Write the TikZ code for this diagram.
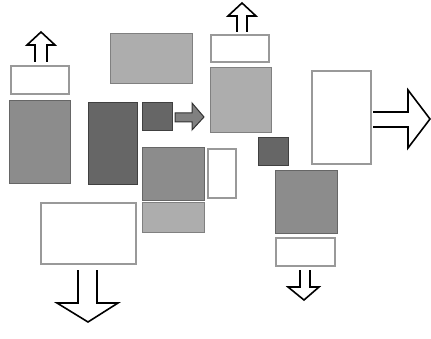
\documentclass[tikz,border=0pt]{standalone}
\begin{document}
\begin{tikzpicture}[x=1pt,y=-1pt,
  graybox/.style={fill=black!45,draw=black!60,line width=0.8pt},
  lightbox/.style={fill=black!32,draw=black!50,line width=0.8pt},
  darkbox/.style={fill=black!60,draw=black!75,line width=0.8pt},
  openbox/.style={draw=black!40,line width=2.2pt,fill=white},
  outarrow/.style={draw=black,line width=1.6pt,fill=white,line join=miter},
  fillarrow/.style={draw=black!80,line width=1pt,fill=black!50}]
\useasboundingbox (0,0) rectangle (431,339);
% left column
\draw[openbox] (11,66) rectangle (69,94);
\draw[graybox] (9,100) rectangle (70,183);
\draw[outarrow] (35,62) -- (35,45) -- (27,45) -- (41,32) -- (55,45) -- (47,45) -- (47,62);
% top middle
\draw[lightbox] (110,33) rectangle (192,83);
% dark tall and small square
\draw[darkbox] (88,102) rectangle (137,184);
\draw[darkbox] (142,102) rectangle (172,130);
\draw[fillarrow] (175,113) -- (192,113) -- (192,103) -- (204,117) -- (192,130) -- (192,122) -- (175,122) -- cycle;
% top right column
\draw[openbox] (211,35) rectangle (269,62);
\draw[lightbox] (210,67) rectangle (271,132);
\draw[outarrow] (237,32) -- (237,16) -- (228,16) -- (242,3) -- (256,16) -- (247,16) -- (247,32);
% dark square right
\draw[darkbox] (258,137) rectangle (288,165);
% right open box and big arrow
\draw[openbox] (312,71) rectangle (371,164);
\draw[outarrow] (373,112) -- (408,112) -- (408,90) -- (430,119) -- (408,148) -- (408,127) -- (373,127);
% middle lower
\draw[graybox] (142,147) rectangle (204,200);
\draw[openbox] (208,149) rectangle (236,198);
\draw[lightbox] (142,202) rectangle (204,232);
% bottom left open box and big down arrow
\draw[openbox] (41,203) rectangle (136,264);
\draw[outarrow] (78,270) -- (78,303) -- (57,303) -- (88,322) -- (118,303) -- (97,303) -- (97,270);
% right lower
\draw[graybox] (275,170) rectangle (337,233);
\draw[openbox] (276,238) rectangle (335,266);
\draw[outarrow] (300,270) -- (300,287) -- (288,287) -- (304,300) -- (319,287) -- (310,287) -- (310,270);
\end{tikzpicture}
\end{document}
